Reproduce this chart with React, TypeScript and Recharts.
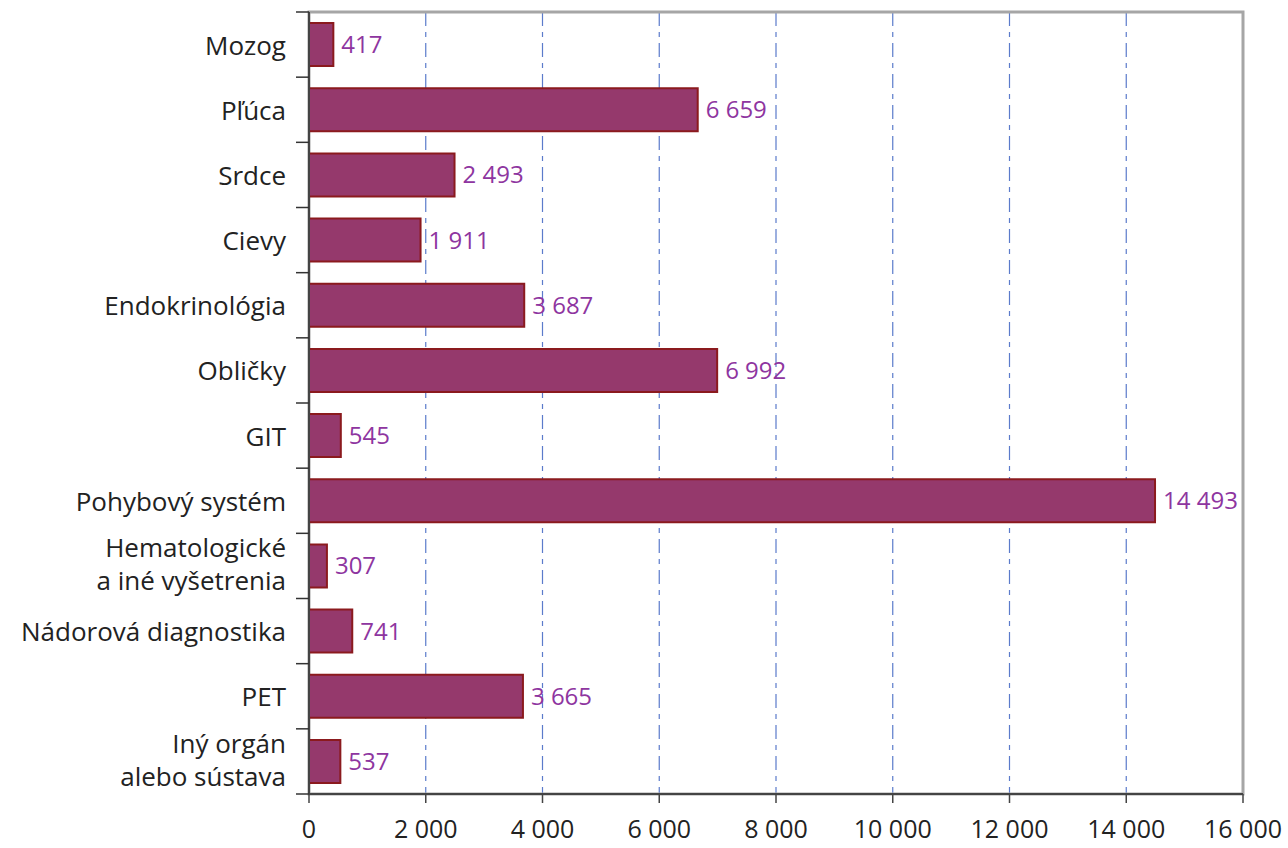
import React from "react";
import { BarChart, Bar, XAxis, YAxis, CartesianGrid, LabelList, ReferenceArea } from "recharts";

const categories = [
  "Mozog",
  "Pľúca",
  "Srdce",
  "Cievy",
  "Endokrinológia",
  "Obličky",
  "GIT",
  "Pohybový systém",
  "Hematologické\na iné vyšetrenia",
  "Nádorová diagnostika",
  "PET",
  "Iný orgán\nalebo sústava",
];
const values = [417, 6659, 2493, 1911, 3687, 6992, 545, 14493, 307, 741, 3665, 537];
const xTicks = [0, 2000, 4000, 6000, 8000, 10000, 12000, 14000, 16000];

const data = categories.map((c, i) => ({ name: c, value: values[i] }));

const W = 1288;
const H = 848;
const M = { top: 12, right: 45, left: 0, bottom: 0 };
const Y_W = 309;
const X_H = 54;
const plotH = H - M.top - M.bottom - X_H;
const band = plotH / categories.length;

const FONT = "'Open Sans', 'Noto Sans', sans-serif";
const fmt = (v: number) => String(v).replace(/\B(?=(\d{3})+(?!\d))/g, " ");

const CatTick = (props: any) => {
  const { x, y, payload, index } = props;
  const lines = String(payload.value).split("\n");
  const lh = 33;
  const startY = y - ((lines.length - 1) * lh) / 2 - (lines.length > 1 ? 2 : 0);
  return (
    <g>
      <line x1={x - 13} x2={x} y1={y - band / 2} y2={y - band / 2} stroke="#333" strokeWidth={1.5} />
      {index === categories.length - 1 && (
        <line x1={x - 13} x2={x} y1={y + band / 2} y2={y + band / 2} stroke="#333" strokeWidth={1.5} />
      )}
      <text x={x - 23} y={startY} textAnchor="end" dominantBaseline="central" fontFamily={FONT} fontSize={26} fill="#222">
        {lines.map((l, i) => (
          <tspan key={i} x={x - 23} dy={i === 0 ? 0 : lh}>
            {l}
          </tspan>
        ))}
      </text>
    </g>
  );
};

const XTick = (props: any) => {
  const { x, y, payload } = props;
  return (
    <text x={x} y={y + 33} textAnchor="middle" fontFamily={FONT} fontSize={25} fill="#222">
      {fmt(payload.value)}
    </text>
  );
};

export default function App() {
  return (
    <div style={{ position: "absolute", left: 0, top: 0, width: W, height: H, background: "#fff" }}>
      <BarChart width={W} height={H} data={data} layout="vertical" margin={M} barCategoryGap="17%">
        <ReferenceArea x1={0} x2={16000} fill="none" stroke="#A6A6A6" strokeWidth={3} ifOverflow="visible" />
        <CartesianGrid horizontal={false} vertical={true} stroke="#5B7BCB" strokeWidth={1.2} strokeDasharray="14 6 5 6" />
        <XAxis
          type="number"
          domain={[0, 16000]}
          ticks={xTicks}
          height={X_H}
          axisLine={{ stroke: "#444", strokeWidth: 2 }}
          tickLine={{ stroke: "#444", strokeWidth: 1.5 }}
          tickSize={9}
          tick={<XTick />}
          interval={0}
        />
        <YAxis
          type="category"
          dataKey="name"
          width={Y_W}
          axisLine={{ stroke: "#444", strokeWidth: 2 }}
          tickLine={false}
          tickSize={0}
          tickMargin={0}
          tick={<CatTick />}
          interval={0}
        />
        <Bar dataKey="value" fill="#95396C" stroke="#8B1A1E" strokeWidth={2} isAnimationActive={false}>
          <LabelList
            dataKey="value"
            position="right"
            offset={8}
            formatter={(v: any) => fmt(Number(v))}
            style={{ fontFamily: FONT, fontSize: 24, fill: "#8E35A0" }}
          />
        </Bar>
      </BarChart>
    </div>
  );
}
